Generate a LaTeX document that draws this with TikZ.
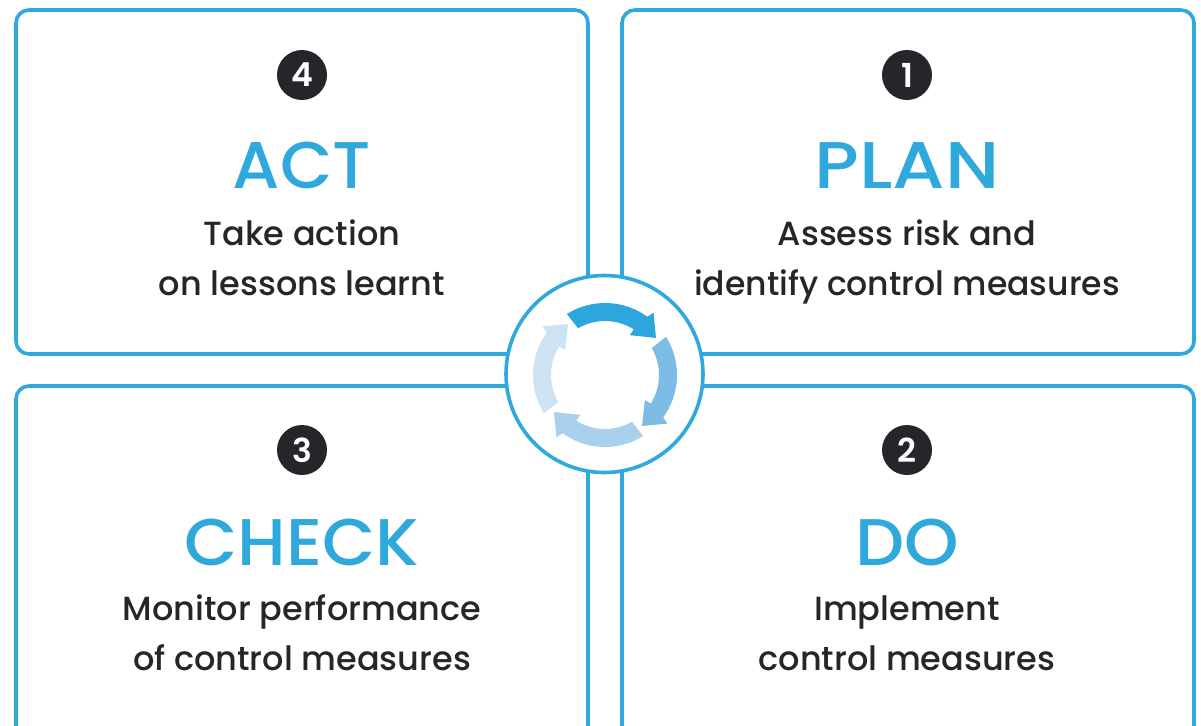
\documentclass[tikz,border=0pt]{standalone}
\usepackage{fontspec}
\setmainfont{Poppins}
\newfontfamily\pmed{Poppins Medium}
\newfontfamily\psemi{Poppins SemiBold}
\definecolor{frameblue}{HTML}{2FA8DC}
\definecolor{inkdark}{HTML}{24262A}
\definecolor{arrowa}{HTML}{2CA6DC}
\definecolor{arrowb}{HTML}{7DBCE4}
\definecolor{arrowc}{HTML}{A9D0EC}
\definecolor{arrowd}{HTML}{CDE2F2}
\newcommand{\cyclearrow}[2]{%
  \fill[#2,rotate=#1] (122:72) arc[start angle=122,end angle=54,radius=72]
    -- (52:79) -- (36:63) -- (58:47) -- (58:54)
    arc[start angle=58,end angle=120,radius=54] -- cycle;}
\tikzset{
  card/.style={draw=frameblue,line width=3.6pt,fill=white,rounded corners=13pt,minimum width=572pt,minimum height=#1,inner sep=0pt,outer sep=0pt},
  badge/.style={circle,fill=inkdark,text=white,minimum size=50pt,inner sep=0pt,font=\psemi\fontsize{33}{33}\selectfont},
  heading/.style={anchor=base,text=frameblue,inner sep=0pt,transform shape,font=\pmed\fontsize{66}{66}\selectfont},
  body/.style={anchor=base,text=inkdark,inner sep=0pt,font=\pmed\fontsize{33.5}{33.5}\selectfont},
  hub/.style={circle,draw=frameblue,line width=3.6pt,fill=white,minimum size=197pt,inner sep=0pt}
}
\begin{document}
\begin{tikzpicture}[x=1pt,y=-1pt]
\clip (0,0) rectangle (1201,725);
\node[card=344pt] (act) at (302,182) {};
\node[card=344pt] (plan) at (908,182) {};
\node[card=354pt] (check) at (302,563) {};
\node[card=354pt] (do) at (908,563) {};
\node[hub] (centre) at (604.5,374) {};
\begin{scope}[shift={(605,375)},yscale=-1]
  \cyclearrow{0}{arrowa}
  \cyclearrow{90}{arrowb}
  \cyclearrow{180}{arrowc}
  \cyclearrow{270}{arrowd}
\end{scope}
\node[badge] (n4) at (302,75) {4};
\node[badge] (n1) at (907,75) {1};
\node[badge] (n3) at (302,450) {3};
\node[badge] (n2) at (907,450) {2};
\node[heading,xscale=1.03] (tact) at (302,188) {ACT};
\node[heading,xscale=1.14] (tplan) at (907,188) {PLAN};
\node[heading,xscale=1.045] (tcheck) at (302,565) {CHECK};
\node[heading,xscale=1.05] (tdo) at (907,565) {DO};
\node[body] (a1) at (302,245) {Take action};
\node[body] (a2) at (302,295) {on lessons learnt};
\node[body] (p1) at (907,245) {Assess risk and};
\node[body,xscale=.987,transform shape] (p2) at (907,295) {identify control measures};
\node[body] (c1) at (302,620) {Monitor performance};
\node[body] (c2) at (302,670) {of control measures};
\node[body] (d1) at (907,620) {Implement};
\node[body] (d2) at (907,670) {control measures};
\end{tikzpicture}
\end{document}
